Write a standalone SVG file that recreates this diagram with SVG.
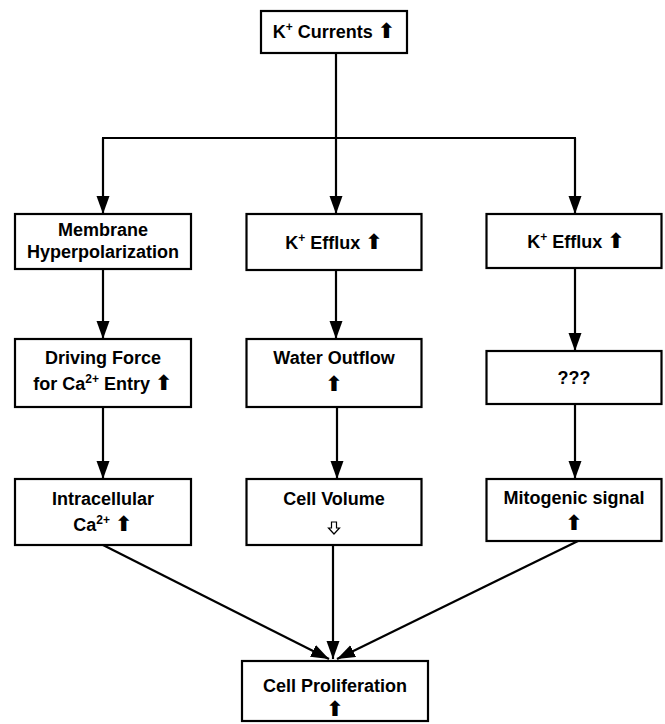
<svg xmlns="http://www.w3.org/2000/svg" width="665" height="724" viewBox="0 0 665 724">
<style>
.box{fill:#fff;stroke:#000;stroke-width:2.2}
.t{font-family:"Liberation Sans",Arial,Helvetica,sans-serif;font-weight:bold;font-size:18px;fill:#000;text-anchor:middle}
.sup{font-size:12px}
.up{font-family:"DejaVu Sans",sans-serif;font-weight:bold;font-size:21px;fill:#000}
.c{stroke:#000;stroke-width:2.2;fill:none}
</style>
<defs>
<marker id="ah" markerUnits="userSpaceOnUse" markerWidth="20" markerHeight="14" refX="18" refY="6.5" orient="auto">
<path d="M0,0 L18,6.5 L0,13 z" fill="#000"/>
</marker>
</defs>
<g id="connectors">
<line class="c" x1="336" y1="53" x2="336" y2="138"/>
<line class="c" x1="102" y1="138" x2="576" y2="138"/>
<line class="c" x1="103" y1="138" x2="103" y2="214" marker-end="url(#ah)"/>
<line class="c" x1="336" y1="138" x2="336" y2="214" marker-end="url(#ah)"/>
<line class="c" x1="575" y1="138" x2="575" y2="214" marker-end="url(#ah)"/>
<line class="c" x1="103" y1="269" x2="103" y2="339" marker-end="url(#ah)"/>
<line class="c" x1="336" y1="270" x2="336" y2="339" marker-end="url(#ah)"/>
<line class="c" x1="575" y1="268" x2="575" y2="351" marker-end="url(#ah)"/>
<line class="c" x1="103" y1="407" x2="103" y2="479" marker-end="url(#ah)"/>
<line class="c" x1="337" y1="407" x2="337" y2="479" marker-end="url(#ah)"/>
<line class="c" x1="575" y1="404" x2="575" y2="479" marker-end="url(#ah)"/>
<line class="c" x1="103" y1="545" x2="329" y2="659" marker-end="url(#ah)"/>
<line class="c" x1="333" y1="545" x2="333" y2="659" marker-end="url(#ah)"/>
<line class="c" x1="578" y1="541" x2="337" y2="659" marker-end="url(#ah)"/>
</g>
<g id="n-kcurrents">
<rect class="box" x="261" y="11" width="146" height="42"/>
<text class="t" x="334" y="38">K<tspan class="sup" dy="-7">+</tspan><tspan dy="7"> Currents </tspan><tspan class="up">⬆</tspan></text>
</g>
<g id="n-membrane">
<rect class="box" x="15" y="214" width="176" height="55"/>
<text class="t" x="103" y="236">Membrane</text>
<text class="t" x="103" y="258">Hyperpolarization</text>
</g>
<g id="n-efflux1">
<rect class="box" x="246.5" y="214" width="175" height="56"/>
<text class="t" x="334" y="249">K<tspan class="sup" dy="-7">+</tspan><tspan dy="7"> Efflux </tspan><tspan class="up">⬆</tspan></text>
</g>
<g id="n-efflux2">
<rect class="box" x="486.5" y="214" width="175" height="54"/>
<text class="t" x="576" y="248">K<tspan class="sup" dy="-7">+</tspan><tspan dy="7"> Efflux </tspan><tspan class="up">⬆</tspan></text>
</g>
<g id="n-driving">
<rect class="box" x="15" y="339" width="176" height="68"/>
<text class="t" x="103" y="364">Driving Force</text>
<text class="t" x="103" y="390">for Ca<tspan class="sup" dy="-7">2+</tspan><tspan dy="7"> Entry </tspan><tspan class="up">⬆</tspan></text>
</g>
<g id="n-water">
<rect class="box" x="246.5" y="339" width="175" height="68"/>
<text class="t" x="334" y="364">Water Outflow</text>
<text class="t" x="334" y="391"><tspan class="up">⬆</tspan></text>
</g>
<g id="n-unknown">
<rect class="box" x="486.5" y="351" width="175" height="53"/>
<text class="t" x="574" y="384">???</text>
</g>
<g id="n-intracellular">
<rect class="box" x="15" y="479" width="176" height="66"/>
<text class="t" x="103" y="505">Intracellular</text>
<text class="t" x="103" y="531">Ca<tspan class="sup" dy="-7">2+</tspan><tspan dy="7"> </tspan><tspan class="up">⬆</tspan></text>
</g>
<g id="n-volume">
<rect class="box" x="246.5" y="479" width="175" height="66"/>
<text class="t" x="334" y="505">Cell Volume</text>
<path d="M331.5,522 h5 v6 h3 l-5.5,6 l-5.5,-6 h3 z" fill="#fff" stroke="#000" stroke-width="1.2"/>
</g>
<g id="n-mitogenic">
<rect class="box" x="486.5" y="479" width="175" height="62"/>
<text class="t" x="574" y="504">Mitogenic signal</text>
<text class="t" x="574" y="530"><tspan class="up">⬆</tspan></text>
</g>
<g id="n-proliferation">
<rect class="box" x="242" y="661" width="186" height="60"/>
<text class="t" x="335" y="692">Cell Proliferation</text>
<text class="t" x="335" y="716"><tspan class="up">⬆</tspan></text>
</g>
</svg>
